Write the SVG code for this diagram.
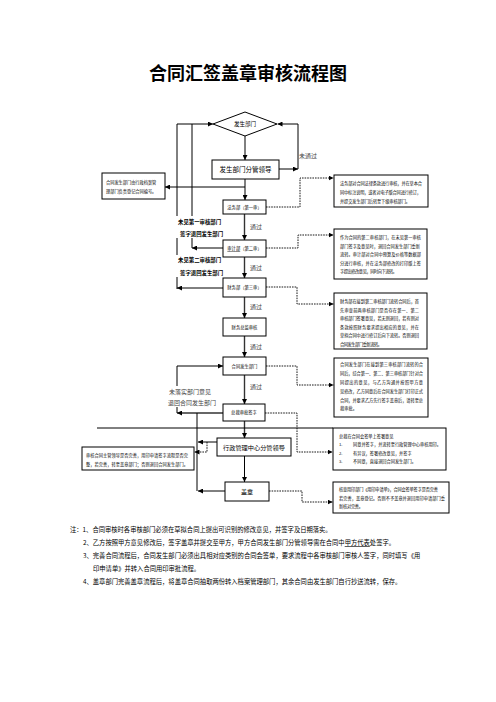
<svg xmlns="http://www.w3.org/2000/svg" width="496" height="702" viewBox="0 0 496 702">
<style>
text{font-family:"Noto Sans CJK SC","Noto Sans",sans-serif;fill:#000}
.b{fill:#fff;stroke:#000;stroke-width:1}
.s{fill:none;stroke:#000;stroke-width:1}
.g{fill:none;stroke:#333;stroke-width:1.4}
.d{fill:none;stroke:#000;stroke-width:0.9;stroke-dasharray:1.6 1}
.t4{font-size:4.2px}
.tm{font-size:4.3px;text-anchor:middle}
.lb{font-size:6px;fill:#444}
.bl{font-size:5.4px;font-weight:bold}
.nt{font-size:6.3px}
</style>
<defs>
<marker id="a" viewBox="0 0 10 10" refX="10" refY="5" markerWidth="5" markerHeight="5" markerUnits="userSpaceOnUse" orient="auto"><path d="M0,0L10,5L0,10z" fill="#000"/></marker>
</defs>
<rect width="496" height="702" fill="#fff"/>
<text x="248" y="80" font-size="18" font-weight="bold" text-anchor="middle">合同汇签盖章审核流程图</text>

<g id="connectors">
<line class="s" x1="245" y1="136" x2="245" y2="160" marker-end="url(#a)"/>
<line class="s" x1="279" y1="169" x2="298" y2="169" marker-end="url(#a)"/>
<path class="s" d="M298,169V124H277.5" marker-end="url(#a)"/>
<line class="s" x1="245" y1="179" x2="245" y2="200" marker-end="url(#a)"/>
<line class="s" x1="245" y1="187" x2="165" y2="187" marker-end="url(#a)"/>
<path class="s" d="M177,289V124H213" marker-end="url(#a)"/>
<line class="s" x1="192" y1="124" x2="192" y2="248"/>
<line class="s" x1="223" y1="248" x2="192" y2="248" marker-end="url(#a)"/>
<line class="s" x1="223" y1="288" x2="177" y2="288" marker-end="url(#a)"/>
<line class="g" x1="244.5" y1="214" x2="244.5" y2="240" marker-end="url(#a)"/>
<line class="g" x1="244.5" y1="257" x2="244.5" y2="278" marker-end="url(#a)"/>
<line class="g" x1="244.5" y1="297" x2="244.5" y2="318" marker-end="url(#a)"/>
<line class="g" x1="244.5" y1="336" x2="244.5" y2="357" marker-end="url(#a)"/>
<line class="g" x1="244.5" y1="375" x2="244.5" y2="404" marker-end="url(#a)"/>
<line class="g" x1="244.5" y1="421" x2="244.5" y2="438" marker-end="url(#a)"/>
<line class="s" x1="244.5" y1="456" x2="244.5" y2="482" marker-end="url(#a)"/>
<line class="g" x1="223" y1="413" x2="177" y2="413" marker-end="url(#a)"/>
<path class="s" d="M177,413V366H223" marker-end="url(#a)"/>
<line class="s" x1="197" y1="413" x2="197" y2="491"/>
<line class="s" x1="217" y1="442" x2="198" y2="442" marker-end="url(#a)"/>
<path class="d" d="M207,442V452H194.5" marker-end="url(#a)"/>
<line class="s" x1="225" y1="491" x2="198" y2="491" marker-end="url(#a)"/>
<path class="d" d="M266,207H300V178H333.5" marker-end="url(#a)"/>
<path class="d" d="M266,248H298V235H333.5" marker-end="url(#a)"/>
<path class="d" d="M266,287H297V304H333.5" marker-end="url(#a)"/>
<path class="d" d="M266,366H297V385H333.5" marker-end="url(#a)"/>
<path class="d" d="M265,413H297V452H332.5" marker-end="url(#a)"/>
<path class="d" d="M269,491H302V502H332.5" marker-end="url(#a)"/>
<line class="s" x1="97" y1="428" x2="333" y2="428"/>
</g>

<g id="labels">
<text class="lb" x="299" y="158">未通过</text>
<rect x="175" y="216" width="50" height="22" fill="#fff"/>
<text class="bl" x="178" y="224">未见第一审核部门</text>
<text class="bl" x="180" y="236">签字退回发生部门</text>
<rect x="175" y="255" width="50" height="22" fill="#fff"/>
<text class="bl" x="178" y="262">未见第二审核部门</text>
<text class="bl" x="180" y="275">签字退回发生部门</text>
<text class="lb" x="250" y="229">通过</text>
<text class="lb" x="250" y="270">通过</text>
<text class="lb" x="250" y="309">通过</text>
<text class="lb" x="250" y="349">通过</text>
<text class="lb" x="250" y="389">通过</text>
<rect x="166" y="386" width="50" height="21" fill="#fff"/>
<text class="lb" x="169" y="394">未落实部门意见</text>
<text class="lb" x="168" y="405">退回合同发生部门</text>
</g>

<g id="n-start"><path class="b" d="M245,112L277,124L245,136L213,124Z"/><text x="245" y="126" font-size="5.5" text-anchor="middle">发生部门</text></g>
<g id="n-lead"><rect class="b" x="212" y="160" width="67" height="19"/><text x="245.5" y="172" font-size="6.5" text-anchor="middle">发生部门分管领导</text></g>
<g id="n-reg"><rect class="b" x="102" y="173" width="63" height="26"/><text class="t4" x="106" y="184" font-size="4.6">合同发生部门由行政档案管</text><text class="t4" x="106" y="193" font-size="4.6">理部门负责登记合同编号。</text></g>
<g id="n-legal"><rect class="b" x="223" y="200" width="43" height="14"/><text class="tm" x="244.5" y="208.5">法务部（第一审）</text></g>
<g id="n-audit"><rect class="b" x="223" y="240" width="43" height="17"/><text class="tm" x="244.5" y="250"><tspan text-decoration="underline">审计部</tspan>（第二审）</text></g>
<g id="n-fin"><rect class="b" x="223" y="278" width="43" height="19"/><text class="tm" x="244.5" y="289">财务部（第三审）</text></g>
<g id="n-cfo"><rect class="b" x="223" y="318" width="43" height="18"/><text class="tm" x="244.5" y="328.5">财务总监审核</text></g>
<g id="n-dept"><rect class="b" x="223" y="357" width="43" height="18"/><text class="tm" x="244.5" y="367.5">合同发生部门</text></g>
<g id="n-ceo"><rect class="b" x="223" y="404" width="42" height="17"/><text class="tm" x="244" y="414">总裁审批签字</text></g>
<g id="n-admin"><rect class="b" x="217" y="438" width="74" height="18"/><text x="254" y="449.5" font-size="6.2" text-anchor="middle">行政管理中心分管领导</text></g>
<g id="n-seal"><rect class="b" x="225" y="482" width="44" height="19"/><text x="247" y="494" font-size="6" text-anchor="middle">盖章</text></g>

<g id="c-legal"><rect class="b" x="334" y="175" width="94" height="32"/>
<text class="t4" x="340" y="185" textLength="82">法务部对合同法律条款进行审核，并在草本合</text>
<text class="t4" x="340" y="194" textLength="81">同中标注说明，或者对电子版合同进行修订，</text>
<text class="t4" x="340" y="203" textLength="70">并提交发生部门后转至下级审核部门。</text></g>
<g id="c-audit"><rect class="b" x="334" y="229" width="93" height="50"/>
<text class="t4" x="340" y="239" textLength="81">作为合同的第二审核部门，在未见第一审核</text>
<text class="t4" x="340" y="247.5" textLength="80">部门签字及意见时，退回合同发生部门重新</text>
<text class="t4" x="340" y="256" textLength="81">流转。审计部对合同中预算及价格等数据部</text>
<text class="t4" x="340" y="264.5" textLength="81">分进行审核，并在法务部修改的打印版上签</text>
<text class="t4" x="340" y="273" textLength="57">字提出修改意见，同时向下流转。</text></g>
<g id="c-fin"><rect class="b" x="334" y="293" width="93" height="56"/>
<text class="t4" x="340" y="303" textLength="79">财务部在接到第二审核部门流转合同后，首</text>
<text class="t4" x="340" y="311.5" textLength="79">先审查前两审核部门是否存在第一、第二</text>
<text class="t4" x="340" y="320" textLength="79">审核部门签署意见，若无则退回，若有则对</text>
<text class="t4" x="340" y="328.5" textLength="79">条款按照财务要求提出相应的意见，并在</text>
<text class="t4" x="340" y="337" textLength="79">草拟合同中进行修订后向下流转。否则退回</text>
<text class="t4" x="340" y="345.5" textLength="42">合同发生部门重新流转。</text></g>
<g id="c-dept"><rect class="b" x="334" y="358" width="94" height="59"/>
<text class="t4" x="340" y="366" textLength="83">合同发生部门在接到第三审核部门流转的合</text>
<text class="t4" x="340" y="375" textLength="83">同后，综合第一、第二、第三审核部门针对合</text>
<text class="t4" x="340" y="384" textLength="83">同提出的意见，与乙方沟通并按照甲方意</text>
<text class="t4" x="340" y="393" textLength="83">见修改，乙方同意后在合同发生部门打印正式</text>
<text class="t4" x="340" y="401.5" textLength="83">合同，并要求乙方先行签字盖章后，请转至总</text>
<text class="t4" x="340" y="410" textLength="17">裁审批。</text></g>
<g id="c-ceo"><rect class="b" x="333" y="428" width="113" height="42"/>
<text class="t4" x="339" y="437.5">总裁在合同会签单上签署意见</text>
<text class="t4" x="339" y="446">1.</text><text class="t4" x="353" y="446">同意并签字，并流转至行政管理中心审核用印。</text>
<text class="t4" x="339" y="454.5">2.</text><text class="t4" x="353" y="454.5">有异议，签署修改意见，并签字</text>
<text class="t4" x="339" y="463">3.</text><text class="t4" x="353" y="463">不同意，直接退回合同发生部门。</text></g>
<g id="c-admin"><rect class="b" x="82" y="447" width="112" height="23"/>
<text class="t4" x="86" y="457" textLength="102">审核合同主管领导是否完善，用印申请签字流程是否完</text>
<text class="t4" x="86" y="465.5" textLength="102">整，若完善，转至盖章部门；否则退回合同发生部门。</text></g>
<g id="c-seal"><rect class="b" x="333" y="482" width="116" height="31"/>
<text class="t4" x="339" y="491" textLength="99">核查用印部门《用印申请单》，合同会签单签字是否完善</text>
<text class="t4" x="339" y="499.5" textLength="106">若完善，盖章登记。否则不予盖章并退回用印申请部门重</text>
<text class="t4" x="339" y="508" textLength="24">新核对完善。</text></g>

<g id="notes">
<text class="nt" x="70" y="532">注：1、合同审核时各审核部门必须在草拟合同上提出可识别的修改意见，并签字及日期落实。</text>
<text class="nt" x="83" y="545">2、乙方按照甲方意见修改后，签字盖章并提交至甲方，甲方合同发生部门分管领导需在合同中<tspan text-decoration="underline">甲方代表</tspan>处签字。</text>
<text class="nt" x="83" y="558">3、完善合同流程后，合同发生部门必须出具相对应类别的合同会签单，要求流程中各审核部门审核人签字，同时填写《用</text>
<text class="nt" x="93" y="571">印申请单》并转入合同用印审批流程。</text>
<text class="nt" x="83" y="584">4、盖章部门完善盖章流程后，将盖章合同抽取两份转入档案管理部门，其余合同由发生部门自行抄送流转，保存。</text>
</g>
</svg>
